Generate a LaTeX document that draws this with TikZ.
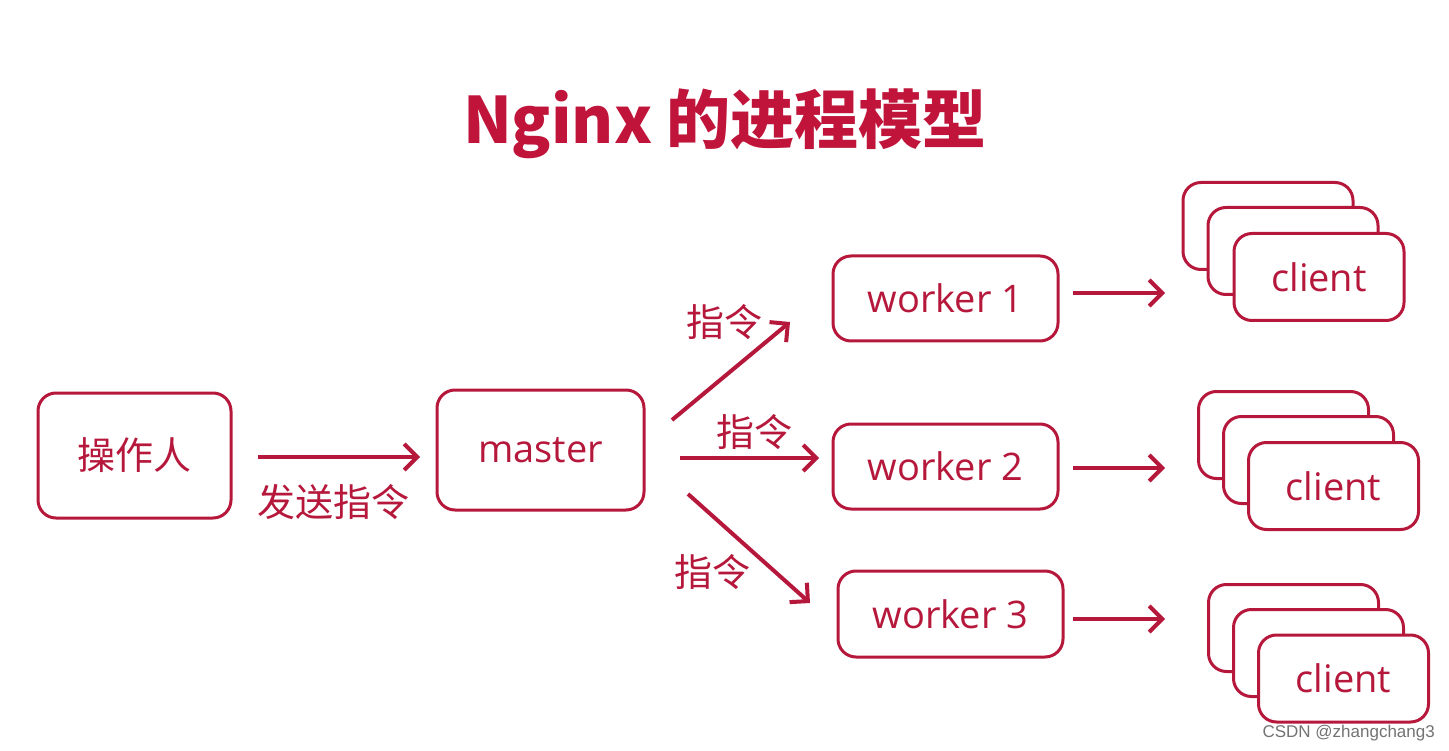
\documentclass[tikz,border=0pt]{standalone}
\usepackage{fontspec}
\setmainfont{Open Sans}
\newfontfamily\cjk{Noto Sans CJK SC}
\newfontfamily\wmfont{Liberation Sans}
\usetikzlibrary{arrows.meta}
\definecolor{crim}{RGB}{182,24,60}
\definecolor{titlecol}{RGB}{192,20,58}
\tikzset{
  box/.style={draw=crim, line width=3pt, rounded corners=18pt, fill=white, text=crim,
    inner sep=0pt, font=\fontsize{38}{40}\selectfont},
  cbox/.style={box, minimum width=170pt, minimum height=87pt},
  cnlabel/.style={text=crim, inner sep=0pt, font=\cjk\fontsize{38}{40}\selectfont},
  arr/.style={draw=crim, line width=4pt, -{Straight Barb[length=13pt,width=26pt,line width=4pt]}},
}
\begin{document}
\begin{tikzpicture}[x=1pt,y=-1pt]
\useasboundingbox (0,0) rectangle (1449,751);
\fill[white] (0,0) rectangle (1449,751);

% title
\node[text=titlecol, inner sep=0pt, font=\cjk\bfseries\fontsize{64}{66}\selectfont] (title) at (725,124) {Nginx 的进程模型};

% main boxes
\node[box, minimum width=193pt, minimum height=125pt, font=\cjk\fontsize{38}{40}\selectfont] (op) at (134.5,455.5) {操作人};
\node[box, minimum width=207pt, minimum height=120pt] (master) at (540.5,450) {master};
\node[box, minimum width=225pt, minimum height=85pt] (w1) at (945.5,298.5) {worker 1};
\node[box, minimum width=225pt, minimum height=85pt] (w2) at (945.5,466.5) {worker 2};
\node[box, minimum width=225pt, minimum height=86pt] (w3) at (950.5,614) {worker 3};

% client stacks
\node[cbox] (c1a) at (1268,226) {};
\node[cbox] (c1b) at (1293,251) {};
\node[cbox] (c1) at (1319,277) {client};
\node[cbox] (c2a) at (1283.5,435) {};
\node[cbox] (c2b) at (1308.5,460) {};
\node[cbox] (c2) at (1333.5,486) {client};
\node[cbox] (c3a) at (1293.5,628) {};
\node[cbox] (c3b) at (1318.5,653) {};
\node[cbox] (c3) at (1343.5,678.5) {client};

% arrow end points
\coordinate (a0s) at (258,457);  \coordinate (a0e) at (420,457);
\coordinate (a1s) at (672,420);  \coordinate (a1e) at (790,322);
\coordinate (a2s) at (680,458);  \coordinate (a2e) at (819,458);
\coordinate (a3s) at (688,494);  \coordinate (a3e) at (810,603);
\coordinate (b1s) at (1073,293); \coordinate (b1e) at (1165,293);
\coordinate (b2s) at (1073,468); \coordinate (b2e) at (1165,468);
\coordinate (b3s) at (1073,619); \coordinate (b3e) at (1165,619);

\draw[arr] (a0s) -- (a0e);
\draw[arr] (a1s) -- (a1e);
\draw[arr] (a2s) -- (a2e);
\draw[arr] (a3s) -- (a3e);
\draw[arr] (b1s) -- (b1e);
\draw[arr] (b2s) -- (b2e);
\draw[arr] (b3s) -- (b3e);

% labels
\node[cnlabel] (l0) at (333,502) {发送指令};
\node[cnlabel] (l1) at (724,322) {指令};
\node[cnlabel] (l2) at (754,432) {指令};
\node[cnlabel] (l3) at (712,572) {指令};

% watermark
\node[text=black!55, inner sep=0pt, anchor=east, font=\wmfont\fontsize{17}{18}\selectfont] (wm) at (1435,733) {CSDN @zhangchang3};
\end{tikzpicture}
\end{document}
